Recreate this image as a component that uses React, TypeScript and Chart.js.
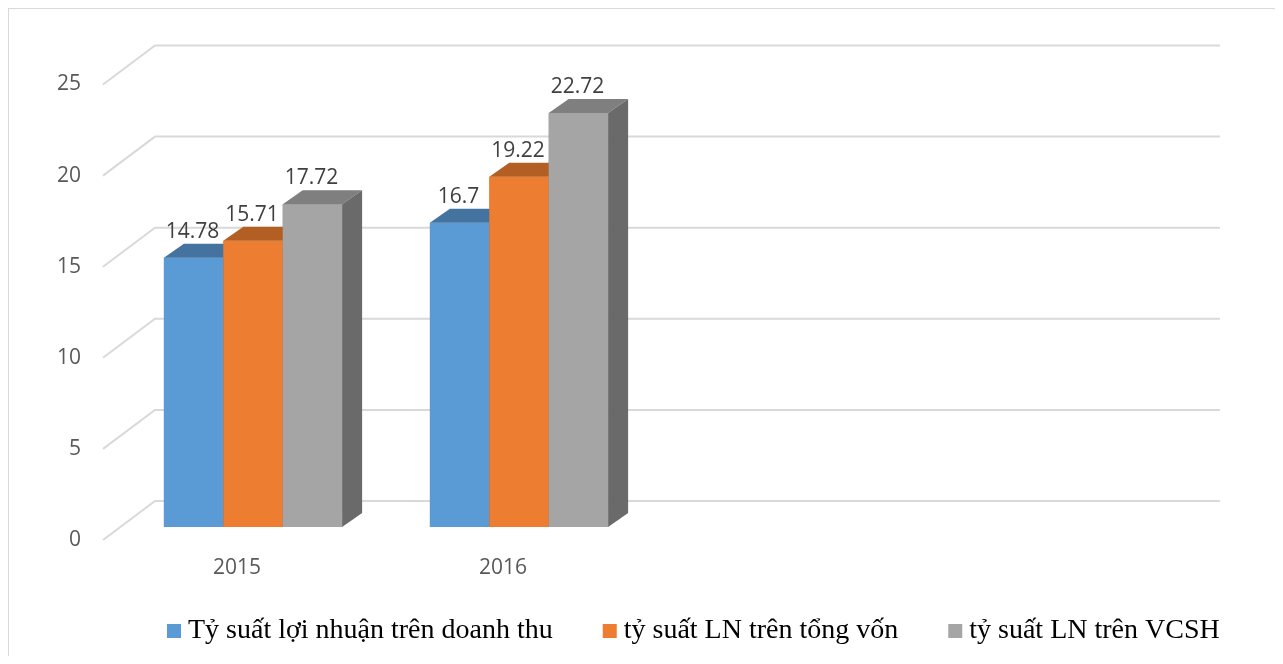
import React, { useEffect, useRef } from 'react';
import { Chart, registerables } from 'chart.js';

Chart.register(...registerables);

const categories = ['2015', '2016', '', ''];
const seriesNames = [
  'Tỷ suất lợi nhuận trên doanh thu',
  'tỷ suất LN trên tổng vốn',
  'tỷ suất LN trên VCSH',
];
const revenueMargin = [14.78, 16.7, null, null];
const capitalMargin = [15.71, 19.22, null, null];
const equityMargin = [17.72, 22.72, null, null];
const yMin = 0;
const yMax = 25;
const yStep = 5;

const frontColors = ['#5B9BD5', '#ED7D31', '#A5A5A5'];
const topColors = ['#44739F', '#B35E22', '#7F7F7F'];
const sideColors = ['#3A6690', '#9E5320', '#6A6A6A'];

const SANS = "'Open Sans', 'Liberation Sans', sans-serif";
const SERIF = "'Liberation Serif', 'Times New Roman', serif";

const CANVAS_W = 1273;
const CANVAS_H = 660;

// 3D geometry
const BAR_DX = 20;
const BAR_DY = 14;
const FRONT_DX = -17;
const FRONT_DY = 13;
const BACK_DX = 35;
const BACK_DY = -26;

const threeDPlugin = {
  id: 'threeD',
  beforeDatasetsDraw(chart: any) {
    const { ctx, chartArea } = chart;
    const y = chart.scales.y;
    ctx.save();
    ctx.strokeStyle = '#d9d9d9';
    ctx.lineWidth = 2;
    y.ticks.forEach((t: any) => {
      const py = y.getPixelForValue(t.value);
      ctx.beginPath();
      ctx.moveTo(chartArea.left + FRONT_DX, py + FRONT_DY);
      ctx.lineTo(chartArea.left + BACK_DX, py + BACK_DY);
      ctx.lineTo(chartArea.right + BACK_DX + 1, py + BACK_DY);
      ctx.stroke();
    });
    ctx.restore();
  },
  afterDatasetsDraw(chart: any) {
    const { ctx } = chart;
    const n = chart.data.labels.length;
    ctx.save();
    const labels: any[] = [];
    for (let i = 0; i < n; i++) {
      chart.data.datasets.forEach((ds: any, d: number) => {
        const meta = chart.getDatasetMeta(d);
        const bar = meta.data[i];
        const v = ds.data[i];
        if (v == null || !bar) return;
        const { x, y, base, width } = bar.getProps(['x', 'y', 'base', 'width'], true);
        const l = x - width / 2;
        const r = x + width / 2;
        ctx.fillStyle = frontColors[d];
        ctx.fillRect(l, y, width, base - y);
        ctx.fillStyle = topColors[d];
        ctx.beginPath();
        ctx.moveTo(l, y);
        ctx.lineTo(r, y);
        ctx.lineTo(r + BAR_DX, y - BAR_DY);
        ctx.lineTo(l + BAR_DX, y - BAR_DY);
        ctx.closePath();
        ctx.fill();
        ctx.fillStyle = sideColors[d];
        ctx.beginPath();
        ctx.moveTo(r, y);
        ctx.lineTo(r + BAR_DX, y - BAR_DY);
        ctx.lineTo(r + BAR_DX, base - BAR_DY);
        ctx.lineTo(r, base);
        ctx.closePath();
        ctx.fill();
        labels.push({ text: String(v), x: x - 1, y: y - 26 });
      });
    }
    ctx.fillStyle = '#404040';
    ctx.font = `21px ${SANS}`;
    ctx.textAlign = 'center';
    ctx.textBaseline = 'middle';
    labels.forEach((lb) => ctx.fillText(lb.text, lb.x, lb.y));
    ctx.restore();
  },
  afterDraw(chart: any) {
    const { ctx } = chart;
    ctx.save();
    ctx.font = `28px ${SERIF}`;
    ctx.textBaseline = 'middle';
    ctx.textAlign = 'left';
    let x = 158;
    const yc = 622;
    chart.data.datasets.forEach((ds: any, d: number) => {
      ctx.fillStyle = frontColors[d];
      ctx.fillRect(x, yc - 7, 14, 14);
      x += 21;
      ctx.fillStyle = '#000000';
      ctx.fillText(ds.label, x, yc);
      x += ctx.measureText(ds.label).width + 50;
    });
    ctx.restore();
  },
};

export default function App() {
  const ref = useRef<HTMLCanvasElement>(null);
  useEffect(() => {
    if (!ref.current) return;
    const chart = new Chart(ref.current, {
      type: 'bar',
      data: {
        labels: categories,
        datasets: [
          { label: seriesNames[0], data: revenueMargin, backgroundColor: frontColors[0], borderWidth: 0 },
          { label: seriesNames[1], data: capitalMargin, backgroundColor: frontColors[1], borderWidth: 0 },
          { label: seriesNames[2], data: equityMargin, backgroundColor: frontColors[2], borderWidth: 0 },
        ],
      },
      options: {
        responsive: false,
        animation: false,
        events: [],
        categoryPercentage: 0.67,
        barPercentage: 1.0,
        layout: {
          padding: { left: 0, right: CANVAS_W - 1175, top: 62.5, bottom: CANVAS_H - 518 - 60 },
        },
        plugins: {
          legend: { display: false },
          tooltip: { enabled: false },
        },
        scales: {
          x: {
            grid: { display: false, drawTicks: false },
            border: { display: false },
            ticks: {
              padding: 28,
              labelOffset: -16,
              color: '#595959',
              font: { family: SANS, size: 21 },
              maxRotation: 0,
              autoSkip: false,
            },
            afterFit: (s: any) => {
              s.height = 60;
            },
          },
          y: {
            min: yMin,
            max: yMax,
            grid: { display: false, drawTicks: false },
            border: { display: false },
            ticks: {
              stepSize: yStep,
              padding: 39,
              labelOffset: 13,
              color: '#595959',
              font: { family: SANS, size: 21 },
            },
            afterFit: (s: any) => {
              s.width = 111;
            },
          },
        },
      },
      plugins: [threeDPlugin],
    } as any);
    return () => chart.destroy();
  }, []);

  return (
    <div style={{ width: 1275, height: 648, overflow: 'hidden' }}>
      <div style={{ width: CANVAS_W, height: CANVAS_H, border: '1px solid #d9d9d9', background: '#ffffff' }}>
        <canvas ref={ref} width={CANVAS_W} height={CANVAS_H} style={{ display: 'block' }} />
      </div>
    </div>
  );
}
